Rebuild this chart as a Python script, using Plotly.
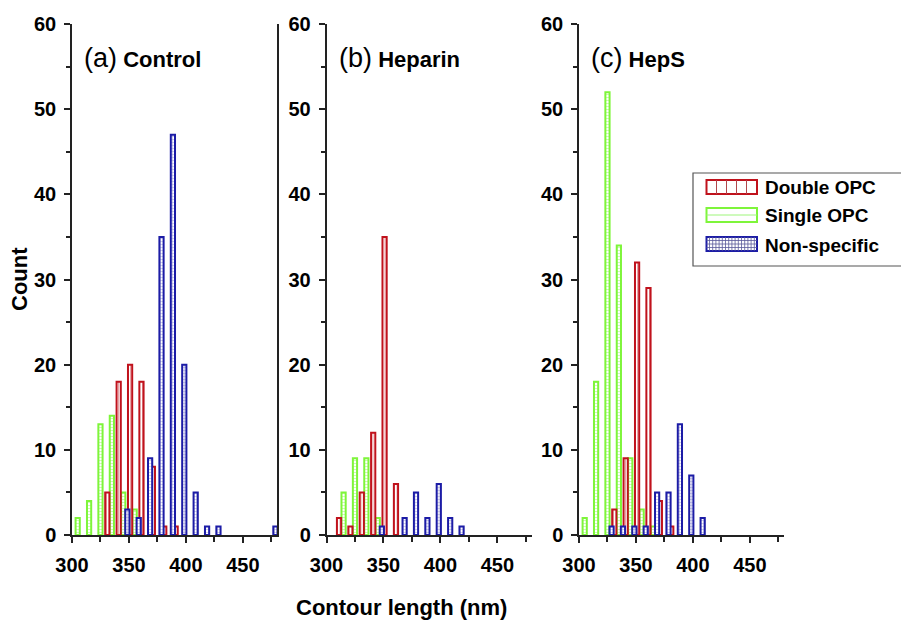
import plotly.graph_objects as go

# ---------------- data ----------------
bin_centers = [305, 315, 325, 335, 345, 355, 365, 375, 385, 395,
               405, 415, 425, 435, 445, 455, 465, 475]

panel_names = ["Control", "Heparin", "HepS"]
panel_tags = ["(a)", "(b)", "(c)"]
series_names = ["Double OPC", "Single OPC", "Non-specific"]

# counts per bin (same order as bin_centers)
control_double = [0, 0, 0, 5, 18, 20, 18, 8, 1, 1, 0, 0, 0, 0, 0, 0, 0, 0]
control_single = [2, 4, 13, 14, 5, 3, 0, 0, 0, 0, 0, 0, 0, 0, 0, 0, 0, 0]
control_nonspec = [0, 0, 0, 0, 3, 2, 9, 35, 47, 20, 5, 1, 1, 0, 0, 0, 0, 1]

heparin_double = [0, 2, 1, 5, 12, 35, 6, 0, 0, 0, 0, 0, 0, 0, 0, 0, 0, 0]
heparin_single = [0, 5, 9, 9, 2, 0, 0, 0, 0, 0, 0, 0, 0, 0, 0, 0, 0, 0]
heparin_nonspec = [0, 0, 0, 0, 1, 0, 2, 5, 2, 6, 2, 1, 0, 0, 0, 0, 0, 0]

heps_double = [0, 0, 0, 3, 9, 32, 29, 4, 1, 0, 0, 0, 0, 0, 0, 0, 0, 0]
heps_single = [2, 18, 52, 34, 9, 3, 1, 0, 0, 0, 0, 0, 0, 0, 0, 0, 0, 0]
heps_nonspec = [0, 0, 1, 1, 1, 1, 5, 5, 13, 7, 2, 0, 0, 0, 0, 0, 0, 0]

x_tick_vals = [300, 350, 400, 450]
y_tick_vals = [0, 10, 20, 30, 40, 50, 60]

# ---------------- styling ----------------
W, H = 901, 623
FONT = "Liberation Sans, Arial, sans-serif"
colors = {"Double OPC": "#c0121c", "Single OPC": "#7ef53a", "Non-specific": "#1c1ca6"}
fills = {"Double OPC": "#f0c8c8", "Single OPC": "#dcffc8", "Non-specific": "#a8a8e0"}
patterns = {"Double OPC": "|", "Single OPC": "-", "Non-specific": "+"}
bar_w = 3.7
centers_off = {"Double OPC": -4.0, "Single OPC": 0.0, "Non-specific": 3.6}
draw_order = ["Single OPC", "Double OPC", "Non-specific"]

panel_data = [
    {"Double OPC": control_double, "Single OPC": control_single, "Non-specific": control_nonspec},
    {"Double OPC": heparin_double, "Single OPC": heparin_single, "Non-specific": heparin_nonspec},
    {"Double OPC": heps_double, "Single OPC": heps_single, "Non-specific": heps_nonspec},
]

# pixel layout of the panels
x_px = [(72, 277), (326.5, 531.5), (579, 784)]
y_top, y_bot = 24, 535

def px(x):
    return x / W

def py(y):
    return 1 - y / H

fig = go.Figure()

for i, pdata in enumerate(panel_data):
    xa = "x" if i == 0 else f"x{i+1}"
    ya = "y" if i == 0 else f"y{i+1}"
    for s in draw_order:
        counts = pdata[s]
        xs = [b for b, c in zip(bin_centers, counts) if c > 0]
        ys = [c for c in counts if c > 0]
        fig.add_trace(go.Bar(
            x=xs, y=ys, name=s, xaxis=xa, yaxis=ya,
            width=bar_w, offset=centers_off[s] - bar_w / 2,
            marker=dict(color=fills[s],
                        line=dict(color=colors[s], width=2),
                        pattern=dict(shape=patterns[s], fgcolor=colors[s],
                                     bgcolor="white", size=3, solidity=0.25)),
            showlegend=False, cliponaxis=True,
        ))

axis_common = dict(
    showgrid=False, zeroline=False, showline=True, linecolor="#222",
    linewidth=1.5, ticks="outside", ticklen=6, tickwidth=1.5, tickcolor="#222",
    automargin=False,
    tickfont=dict(family=FONT, size=20, color="black", weight="bold"),
)

layout = dict(
    width=W, height=H, margin=dict(l=0, r=0, t=0, b=0, autoexpand=False),
    paper_bgcolor="white", plot_bgcolor="white",
    barmode="overlay", showlegend=False,
)
for i in range(3):
    xk = "xaxis" if i == 0 else f"xaxis{i+1}"
    yk = "yaxis" if i == 0 else f"yaxis{i+1}"
    xname = "x" if i == 0 else f"x{i+1}"
    yname = "y" if i == 0 else f"y{i+1}"
    layout[xk] = dict(axis_common, domain=[px(x_px[i][0]), px(x_px[i][1])],
                      range=[300, 480], tickvals=x_tick_vals,
                      ticktext=[str(v) for v in x_tick_vals],
                      anchor=yname, ticklabelstandoff=5,
                      minor=dict(ticks="outside", dtick=25, tick0=300, ticklen=5,
                                 tickwidth=1.5, tickcolor="#222"))
    layout[yk] = dict(axis_common, domain=[py(y_bot), py(y_top)],
                      range=[0, 60], tickvals=y_tick_vals,
                      ticktext=[str(v) for v in y_tick_vals],
                      anchor=xname, ticklabelstandoff=4,
                      mirror=(i == 0),
                      minor=dict(ticks="outside", dtick=5, tick0=0, ticklen=4,
                                 tickwidth=1.5, tickcolor="#222"))
fig.update_layout(**layout)

annotations = []
shapes = []
# panel labels
for i in range(3):
    annotations.append(dict(
        xref="paper", yref="paper", x=px(x_px[i][0] + 10), y=py(58),
        xanchor="left", yanchor="middle", showarrow=False,
        text=f'<span style="font-size:27px">{panel_tags[i]}</span> <b>{panel_names[i]}</b>',
        font=dict(family=FONT, size=22, color="black"),
    ))
# axis titles
annotations.append(dict(
    xref="paper", yref="paper", x=px(19), y=py(279), textangle=-90,
    xanchor="center", yanchor="middle", showarrow=False,
    text="<b>Count</b>", font=dict(family=FONT, size=22, color="black")))
annotations.append(dict(
    xref="paper", yref="paper", x=px(401), y=py(607),
    xanchor="center", yanchor="middle", showarrow=False,
    text="<b>Contour length (nm)</b>", font=dict(family=FONT, size=22, color="black")))

# manual legend
shapes.append(dict(type="rect", xref="paper", yref="paper",
                   x0=px(693), x1=px(915), y0=py(266), y1=py(173),
                   line=dict(color="#555", width=1.2), fillcolor="white", layer="above"))
row_y = [187, 215, 244]
sw_x0, sw_x1 = 706.5, 757
for s, yc in zip(series_names, row_y):
    y0, y1 = yc - 7, yc + 7
    shapes.append(dict(type="rect", xref="paper", yref="paper",
                       x0=px(sw_x0), x1=px(sw_x1), y0=py(y1), y1=py(y0),
                       line=dict(color=colors[s], width=2), fillcolor="white", layer="above"))
    if patterns[s] == "|":
        xx = sw_x0 + 10
        while xx < sw_x1 - 3:
            shapes.append(dict(type="line", xref="paper", yref="paper",
                               x0=px(xx), x1=px(xx), y0=py(y1), y1=py(y0),
                               line=dict(color="#b0474c", width=1), layer="above"))
            xx += 10
    elif patterns[s] == "-":
        shapes.append(dict(type="line", xref="paper", yref="paper",
                           x0=px(sw_x0), x1=px(sw_x1), y0=py(yc), y1=py(yc),
                           line=dict(color="#9ef57a", width=1), layer="above"))
    else:
        xx = sw_x0 + 3
        while xx < sw_x1 - 1:
            shapes.append(dict(type="line", xref="paper", yref="paper",
                               x0=px(xx), x1=px(xx), y0=py(y1), y1=py(y0),
                               line=dict(color="#5a5a9a", width=0.8), layer="above"))
            xx += 3.2
        yy = y0 + 3.5
        while yy < y1 - 1:
            shapes.append(dict(type="line", xref="paper", yref="paper",
                               x0=px(sw_x0), x1=px(sw_x1), y0=py(yy), y1=py(yy),
                               line=dict(color="#5a5a9a", width=0.8), layer="above"))
            yy += 3.5
    annotations.append(dict(
        xref="paper", yref="paper", x=px(763), y=py(yc + 1),
        xanchor="left", yanchor="middle", showarrow=False,
        text=f"<b>{s}</b>", font=dict(family=FONT, size=19, color="black")))

fig.update_layout(annotations=annotations, shapes=shapes)
fig.write_html("out.html")
